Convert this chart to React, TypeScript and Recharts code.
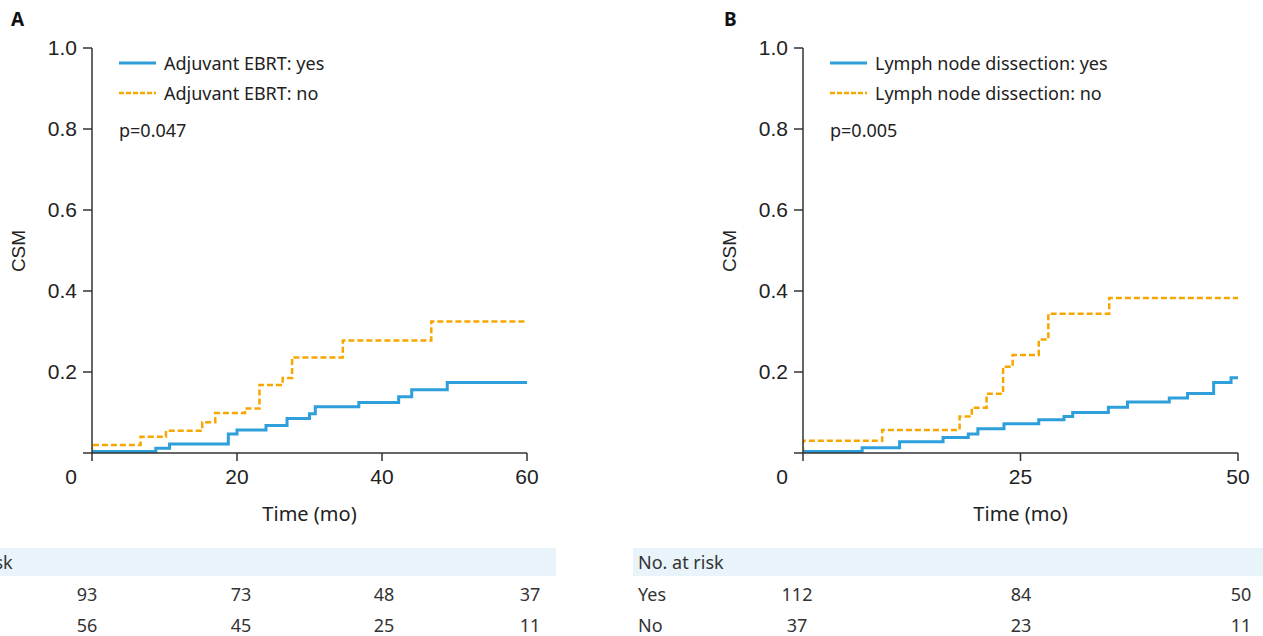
import React from 'react';
import { LineChart, Line, XAxis, YAxis } from 'recharts';

// ---- Panel A data (Adjuvant EBRT) ----
const aYesTime = [0, 8.8, 10.7, 18.8, 20.0, 24.0, 26.9, 30.0, 30.8, 36.8, 42.3, 44.1, 49.0, 60];
const aYesCsm = [0.004, 0.012, 0.022, 0.047, 0.057, 0.068, 0.085, 0.097, 0.114, 0.125, 0.139, 0.156, 0.174, 0.174];
const aNoTime = [0, 0, 6.7, 10.2, 15.2, 17.0, 21.1, 23.1, 26.3, 27.6, 34.6, 46.8, 60];
const aNoCsm = [0, 0.02, 0.04, 0.055, 0.076, 0.099, 0.11, 0.168, 0.185, 0.236, 0.278, 0.325, 0.325];

// ---- Panel B data (Lymph node dissection) ----
const bYesTime = [0, 6.8, 11.1, 16.1, 19.0, 20.1, 23.1, 27.1, 30.0, 31.0, 35.1, 37.3, 42.1, 44.2, 47.2, 49.2, 50];
const bYesCsm = [0.004, 0.013, 0.028, 0.038, 0.047, 0.06, 0.072, 0.082, 0.09, 0.1, 0.113, 0.126, 0.136, 0.147, 0.174, 0.186, 0.186];
const bNoTime = [0, 0, 9.1, 18.0, 19.4, 21.1, 23.0, 24.1, 27.1, 28.2, 35.2, 50];
const bNoCsm = [0, 0.03, 0.057, 0.09, 0.112, 0.146, 0.213, 0.242, 0.28, 0.344, 0.383, 0.383];

// ---- ticks ----
const yTicks = [0, 0.2, 0.4, 0.6, 0.8, 1.0];
const aXTicks = [0, 20, 40, 60];
const bXTicks = [0, 25, 50];

// ---- labels ----
const aLegend = ['Adjuvant EBRT: yes', 'Adjuvant EBRT: no'];
const bLegend = ['Lymph node dissection: yes', 'Lymph node dissection: no'];
const aP = 'p=0.047';
const bP = 'p=0.005';

// ---- number at risk ----
const riskHeader = 'No. at risk';
const riskRowLabels = ['Yes', 'No'];
const aRiskYes = [93, 73, 48, 37];
const aRiskNo = [56, 45, 25, 11];
const bRiskYes = [112, 84, 50];
const bRiskNo = [37, 23, 11];

const BLUE = '#2E9FDA';
const ORANGE = '#F7A600';
const AXIS = '#333333';
const TICK_FONT = '"Liberation Sans", Arial, sans-serif';
const TEXT_FONT = '"Noto Sans", sans-serif';

const zip = (t: number[], v: number[]) => t.map((x, i) => ({ t: x, v: v[i] }));

const makeXTick = (zeroShift: number) => (props: any) => {
  const { x, y, payload } = props;
  return (
    <text
      x={payload.value === 0 ? x + zeroShift : x}
      y={y}
      dy="0.71em"
      textAnchor="middle"
      fill="#222"
      fontSize={21}
      fontFamily={TICK_FONT}
    >
      {payload.value}
    </text>
  );
};

type PanelProps = {
  left: number;
  letter: string;
  yes: { t: number; v: number }[];
  no: { t: number; v: number }[];
  xMax: number;
  xTicks: number[];
  legend: string[];
  p: string;
  riskYes: number[];
  riskNo: number[];
  riskCols: number[];
  bandLeft: number;
  bandRight: number;
  showRowLabels: boolean;
};

const W = 552;
const H = 540;
const PLOT_LEFT = 92;
const PLOT_RIGHT = 527;

function Panel(props: PanelProps) {
  const { left, letter, yes, no, xMax, xTicks, legend, p, riskYes, riskNo, riskCols, bandLeft, bandRight, showRowLabels } = props;
  return (
    <div style={{ position: 'absolute', left, top: 0, width: W, height: 636 }}>
      <div
        style={{
          position: 'absolute',
          left: left === 0 ? 11 : 13,
          top: 6,
          fontFamily: TEXT_FONT,
          fontWeight: 700,
          fontSize: 19,
          color: '#111',
        }}
      >
        {letter}
      </div>
      <LineChart
        width={W}
        height={H}
        margin={{ top: 48, right: W - PLOT_RIGHT, bottom: 27, left: 0 }}
        style={{ position: 'absolute', left: 0, top: 0 }}
      >
        <XAxis
          dataKey="t"
          type="number"
          domain={[0, xMax]}
          ticks={xTicks}
          allowDataOverflow
          height={60}
          tickSize={8}
          tickMargin={8}
          axisLine={{ stroke: AXIS, strokeWidth: 1.5 }}
          tickLine={{ stroke: AXIS, strokeWidth: 1.5 }}
          tick={makeXTick(-21)}
        />
        <YAxis
          type="number"
          domain={[0, 1]}
          ticks={yTicks}
          width={PLOT_LEFT}
          tickSize={9}
          tickMargin={6}
          axisLine={{ stroke: AXIS, strokeWidth: 1.5 }}
          tickLine={{ stroke: AXIS, strokeWidth: 1.5 }}
          tickFormatter={(v: number) => (v === 0 ? '' : v.toFixed(1))}
          tick={{ fill: '#222', fontSize: 21, fontFamily: TICK_FONT }}
        />
        <Line
          data={no}
          dataKey="v"
          type="stepAfter"
          stroke={ORANGE}
          strokeWidth={2.5}
          strokeDasharray="6 3"
          dot={false}
          isAnimationActive={false}
        />
        <Line
          data={yes}
          dataKey="v"
          type="stepAfter"
          stroke={BLUE}
          strokeWidth={3}
          dot={false}
          isAnimationActive={false}
        />
      </LineChart>

      {/* y title */}
      <div
        style={{
          position: 'absolute',
          left: 19,
          top: 251,
          transform: 'translate(-50%, -50%) rotate(-90deg)',
          fontFamily: TICK_FONT,
          fontSize: 19,
          color: '#222',
          whiteSpace: 'nowrap',
        }}
      >
        CSM
      </div>
      {/* x title */}
      <div
        style={{
          position: 'absolute',
          left: (PLOT_LEFT + PLOT_RIGHT) / 2,
          top: 513,
          transform: 'translate(-50%, -50%)',
          fontFamily: TEXT_FONT,
          fontSize: 20,
          color: '#222',
          whiteSpace: 'nowrap',
        }}
      >
        Time (mo)
      </div>

      {/* legend */}
      {legend.map((txt, i) => (
        <div
          key={txt}
          style={{
            position: 'absolute',
            left: 119,
            top: 63 + i * 30,
            transform: 'translateY(-50%)',
            display: 'flex',
            alignItems: 'center',
            fontFamily: TEXT_FONT,
            fontSize: 18,
            color: '#222',
            whiteSpace: 'nowrap',
          }}
        >
          <svg width={37} height={6} style={{ marginRight: 8 }}>
            <line
              x1={0}
              y1={3}
              x2={37}
              y2={3}
              stroke={i === 0 ? BLUE : ORANGE}
              strokeWidth={i === 0 ? 3 : 2.5}
              strokeDasharray={i === 0 ? undefined : '5 2'}
            />
          </svg>
          {txt}
        </div>
      ))}
      <div
        style={{
          position: 'absolute',
          left: 119,
          top: 130,
          transform: 'translateY(-50%)',
          fontFamily: TEXT_FONT,
          fontSize: 18,
          color: '#222',
        }}
      >
        {p}
      </div>

      {/* risk table */}
      <div
        style={{
          position: 'absolute',
          left: bandLeft,
          top: 548,
          width: bandRight - bandLeft,
          height: 28,
          background: '#E8F3FA',
        }}
      />
      <div
        style={{
          position: 'absolute',
          left: bandLeft + 5,
          top: 562,
          transform: 'translateY(-50%)',
          fontFamily: TEXT_FONT,
          fontSize: 18,
          color: '#333',
          whiteSpace: 'nowrap',
        }}
      >
        {riskHeader}
      </div>
      {[riskYes, riskNo].map((row, r) => (
        <React.Fragment key={r}>
          {showRowLabels && (
            <div
              style={{
                position: 'absolute',
                left: bandLeft + 5,
                top: 594 + r * 31,
                transform: 'translateY(-50%)',
                fontFamily: TEXT_FONT,
                fontSize: 18,
                color: '#333',
              }}
            >
              {riskRowLabels[r]}
            </div>
          )}
          {row.map((n, c) => (
            <div
              key={c}
              style={{
                position: 'absolute',
                left: riskCols[c],
                top: 594 + r * 31,
                transform: 'translate(-50%, -50%)',
                fontFamily: TEXT_FONT,
                fontSize: 18,
                color: '#333',
              }}
            >
              {n}
            </div>
          ))}
        </React.Fragment>
      ))}
    </div>
  );
}

export default function App() {
  return (
    <div
      style={{
        position: 'absolute',
        left: 0,
        top: 0,
        width: 1263,
        height: 636,
        overflow: 'hidden',
        background: '#fff',
      }}
    >
      <Panel
        left={0}
        letter="A"
        yes={zip(aYesTime, aYesCsm)}
        no={zip(aNoTime, aNoCsm)}
        xMax={60}
        xTicks={aXTicks}
        legend={aLegend}
        p={aP}
        riskYes={aRiskYes}
        riskNo={aRiskNo}
        riskCols={[87, 241, 384, 530]}
        bandLeft={-78}
        bandRight={556}
        showRowLabels={false}
      />
      <Panel
        left={711}
        letter="B"
        yes={zip(bYesTime, bYesCsm)}
        no={zip(bNoTime, bNoCsm)}
        xMax={50}
        xTicks={bXTicks}
        legend={bLegend}
        p={bP}
        riskYes={bRiskYes}
        riskNo={bRiskNo}
        riskCols={[86, 310, 530]}
        bandLeft={-78}
        bandRight={560}
        showRowLabels={true}
      />
    </div>
  );
}
